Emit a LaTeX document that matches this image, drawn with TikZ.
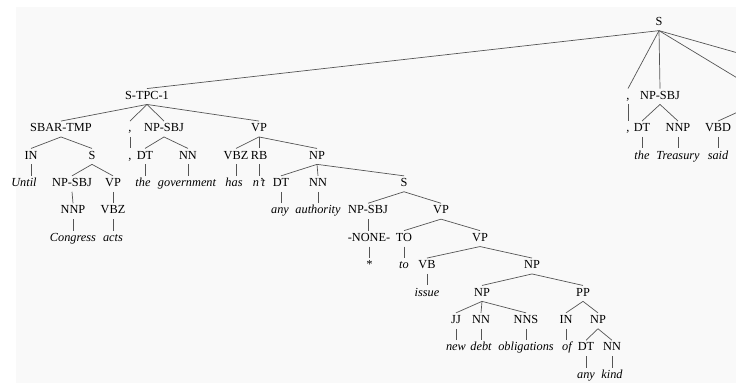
\documentclass[tikz,border=0pt]{standalone}
\usepackage{fontspec}
\setmainfont{Liberation Serif}
\usepackage{xcolor}
\usetikzlibrary{positioning,calc}
\definecolor{panel}{HTML}{F9F9F9}
\definecolor{branch}{HTML}{555555}

\begin{document}
\begin{tikzpicture}[
    x=1pt, y=-1pt,
    font=\fontsize{12.3}{14}\selectfont,
    tag/.style={
        inner xsep=1pt,
        inner ysep=2.5pt,
        text height=8pt,
        text depth=2.5pt
    },
    word/.style={
        tag,
        font=\fontsize{12.3}{14}\selectfont\itshape
    },
    edge/.style={draw=branch, line width=0.7pt}
]
\useasboundingbox (0,0) rectangle (736,383);
\fill[panel] (16,7) rectangle (736,383);
\clip (0,0) rectangle (736,383);

% root
\node[tag] (s) at (659,22.7) {S};

% topicalised clause
\node[tag] (stpc) at (147,96.5) {S-TPC-1};
\node[tag] (sbar) at (61,129) {SBAR-TMP};
\node[tag] (comA) at (130,129) {,};
\node[tag] (npsbjA) at (164,129) {NP-SBJ};
\node[tag] (vpA) at (259,129) {VP};

\node[tag] (inA) at (31,156.4) {IN};
\node[tag] (sA) at (92,156.4) {S};
\node[tag] (comB) at (130,156.4) {,};
\node[tag] (dtA) at (145,156.4) {DT};
\node[tag] (nnA) at (188,156.4) {NN};
\node[tag] (vbzA) at (236,156.4) {VBZ};
\node[tag] (rbA) at (259,156.4) {RB};
\node[tag] (npA) at (317,156.4) {NP};

\node[word] (until) at (24,183.8) {Until};
\node[tag] (npsbjB) at (72,183.8) {NP-SBJ};
\node[tag] (vpB) at (113,183.8) {VP};
\node[word] (the) at (143,183.8) {the};
\node[word] (government) at (187,183.8) {government};
\node[word] (has) at (234,183.8) {has};
\node[word] (nt) at (259,183.8) {n't};
\node[tag] (dtB) at (281,183.8) {DT};
\node[tag] (nnB) at (318,183.8) {NN};
\node[tag] (sB) at (404,183.8) {S};

\node[tag] (nnpA) at (73,211.2) {NNP};
\node[tag] (vbzB) at (113,211.2) {VBZ};
\node[word] (any) at (280,211.2) {any};
\node[word] (authority) at (318,211.2) {authority};
\node[tag] (npsbjC) at (368,211.2) {NP-SBJ};
\node[tag] (vpC) at (441,211.2) {VP};

\node[word] (congress) at (73,238.6) {Congress};
\node[word] (acts) at (113,238.6) {acts};
\node[tag] (none) at (369,238.6) {-NONE-};
\node[tag] (to) at (404,238.6) {TO};
\node[tag] (vpD) at (480,238.6) {VP};

\node[word] (star) at (369,266) {*};
\node[word] (toW) at (404,266) {to};
\node[tag] (vb) at (427,266) {VB};
\node[tag] (npB) at (532,266) {NP};

\node[word] (issue) at (427,293.4) {issue};
\node[tag] (npC) at (482,293.4) {NP};
\node[tag] (pp) at (583,293.4) {PP};

\node[tag] (jj) at (456,320.8) {JJ};
\node[tag] (nnC) at (481,320.8) {NN};
\node[tag] (nns) at (526,320.8) {NNS};
\node[tag] (inB) at (566,320.8) {IN};
\node[tag] (npD) at (598,320.8) {NP};

\node[word] (new) at (456,348.2) {new};
\node[word] (debt) at (481,348.2) {debt};
\node[word] (obligations) at (526,348.2) {obligations};
\node[word] (of) at (567,348.2) {of};
\node[tag] (dtC) at (586,348.2) {DT};
\node[tag] (nnD) at (612,348.2) {NN};

\node[word] (anyB) at (586,375.6) {any};
\node[word] (kind) at (612,375.6) {kind};

% main clause, cut at the right edge
\node[tag] (comC) at (628,96.5) {,};
\node[tag] (npsbjD) at (660,96.5) {NP-SBJ};
\coordinate (vpE) at (755,96.5);
\coordinate (stop) at (864,88.7);

\node[tag] (comD) at (628,129) {,};
\node[tag] (dtD) at (642,129) {DT};
\node[tag] (nnp) at (678,129) {NNP};
\node[tag] (vbd) at (718,129) {VBD};

\node[word] (theB) at (642,156.4) {the};
\node[word] (treasury) at (678,156.4) {Treasury};
\node[word] (said) at (718,156.4) {said};

% branches
\draw[edge] (s.south) -- (stpc.north);
\draw[edge] (s.south) -- (comC.north);
\draw[edge] (s.south) -- (npsbjD.north);
\draw[edge] (s.south) -- ($(vpE)+(0,-7.75)$);
\draw[edge] (s.south) -- (stop);

\draw[edge] (stpc.south) -- (sbar.north);
\draw[edge] (stpc.south) -- (comA.north);
\draw[edge] (stpc.south) -- (npsbjA.north);
\draw[edge] (stpc.south) -- (vpA.north);

\draw[edge] (sbar.south) -- (inA.north);
\draw[edge] (sbar.south) -- (sA.north);
\draw[edge] (inA.south) -- (inA.south |- until.north);
\draw[edge] (sA.south) -- (npsbjB.north);
\draw[edge] (sA.south) -- (vpB.north);
\draw[edge] (npsbjB.south) -- (nnpA.north);
\draw[edge] (nnpA.south) -- (congress.north);
\draw[edge] (vpB.south) -- (vbzB.north);
\draw[edge] (vbzB.south) -- (acts.north);

\draw[edge] (comA.south) -- (comB.north);
\draw[edge] (npsbjA.south) -- (dtA.north);
\draw[edge] (npsbjA.south) -- (nnA.north);
\draw[edge] (dtA.south) -- (dtA.south |- the.north);
\draw[edge] (nnA.south) -- (nnA.south |- government.north);

\draw[edge] (vpA.south) -- (vbzA.north);
\draw[edge] (vpA.south) -- (rbA.north);
\draw[edge] (vpA.south) -- (npA.north);
\draw[edge] (vbzA.south) -- (vbzA.south |- has.north);
\draw[edge] (rbA.south) -- (nt.north);
\draw[edge] (npA.south) -- (dtB.north);
\draw[edge] (npA.south) -- (nnB.north);
\draw[edge] (npA.south) -- (sB.north);
\draw[edge] (dtB.south) -- (dtB.south |- any.north);
\draw[edge] (nnB.south) -- (authority.north);

\draw[edge] (sB.south) -- (npsbjC.north);
\draw[edge] (sB.south) -- (vpC.north);
\draw[edge] (npsbjC.south) -- (npsbjC.south |- none.north);
\draw[edge] (none.south) -- (star.north);
\draw[edge] (vpC.south) -- (to.north);
\draw[edge] (vpC.south) -- (vpD.north);
\draw[edge] (to.south) -- (toW.north);
\draw[edge] (vpD.south) -- (vb.north);
\draw[edge] (vpD.south) -- (npB.north);
\draw[edge] (vb.south) -- (issue.north);

\draw[edge] (npB.south) -- (npC.north);
\draw[edge] (npB.south) -- (pp.north);
\draw[edge] (npC.south) -- (jj.north);
\draw[edge] (npC.south) -- (nnC.north);
\draw[edge] (npC.south) -- (nns.north);
\draw[edge] (jj.south) -- (new.north);
\draw[edge] (nnC.south) -- (debt.north);
\draw[edge] (nns.south) -- (obligations.north);
\draw[edge] (pp.south) -- (inB.north);
\draw[edge] (pp.south) -- (npD.north);
\draw[edge] (inB.south) -- (inB.south |- of.north);
\draw[edge] (npD.south) -- (dtC.north);
\draw[edge] (npD.south) -- (nnD.north);
\draw[edge] (dtC.south) -- (anyB.north);
\draw[edge] (nnD.south) -- (kind.north);

\draw[edge] (comC.south) -- (comD.north);
\draw[edge] (npsbjD.south) -- (dtD.north);
\draw[edge] (npsbjD.south) -- (nnp.north);
\draw[edge] (dtD.south) -- (theB.north);
\draw[edge] (nnp.south) -- (treasury.north);
\draw[edge] ($(vpE)+(0,7.75)$) -- (vbd.north);
\draw[edge] (vbd.south) -- (said.north);

\end{tikzpicture}
\end{document}
